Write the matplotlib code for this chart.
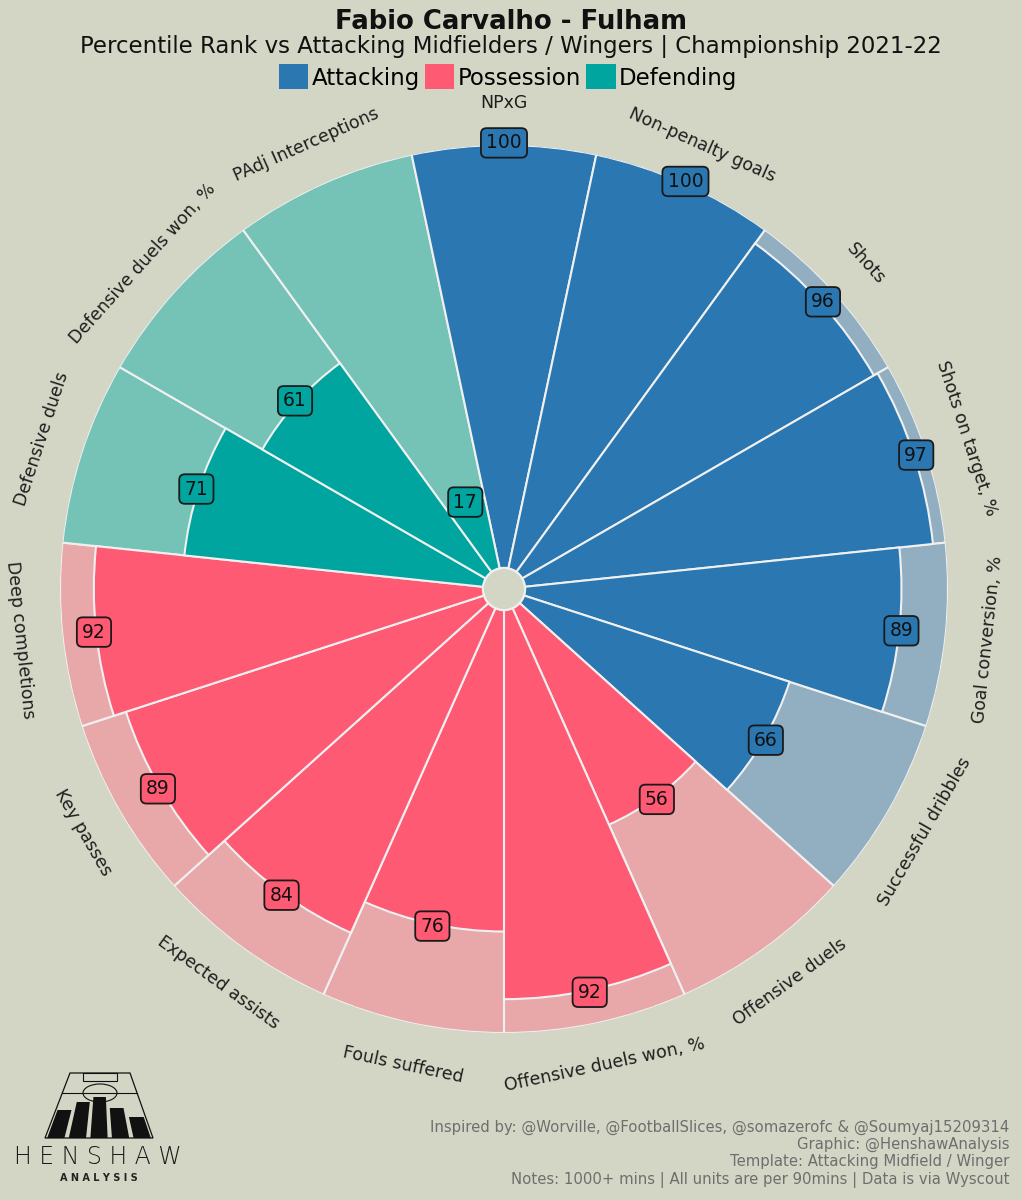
import numpy as np
import matplotlib.pyplot as plt
from matplotlib.patches import Circle, Polygon, Rectangle, Ellipse, Patch

# --- data ---
params = ["NPxG", "Non-penalty goals", "Shots", "Shots on target, %",
          "Goal conversion, %", "Successful dribbles", "Offensive duels",
          "Offensive duels won, %", "Fouls suffered", "Expected assists",
          "Key passes", "Deep completions", "Defensive duels",
          "Defensive duels won, %", "PAdj Interceptions"]
values = [100, 100, 96, 97, 89, 66, 56, 92, 76, 84, 89, 92, 71, 61, 17]
groups = ["Attacking"] * 6 + ["Possession"] * 6 + ["Defending"] * 3

group_names = ["Attacking", "Possession", "Defending"]
slice_col = {"Attacking": "#2A77B1", "Possession": "#FF5A73", "Defending": "#00A59F"}
back_col = {"Attacking": "#92AFC1", "Possession": "#E8A8A9", "Defending": "#75C2B6"}

title = "Fabio Carvalho - Fulham"
subtitle = "Percentile Rank vs Attacking Midfielders / Wingers | Championship 2021-22"
notes = ("Inspired by: @Worville, @FootballSlices, @somazerofc & @Soumyaj15209314\n"
         "Graphic: @HenshawAnalysis\n"
         "Template: Attacking Midfield / Winger\n"
         "Notes: 1000+ mins | All units are per 90mins | Data is via Wyscout")

BG = "#D3D6C4"
EDGE = "#F0F0F0"
INNER = 5  # hole in the middle, in value units

fig = plt.figure(figsize=(10.22, 12), dpi=100, facecolor=BG)

# polar axes: centre ~ (504, 589) px, outer radius ~444 px
cx, cy, R = 504, 589, 444
W, H = 1022, 1200
ax = fig.add_axes([(cx - R) / W, 1 - (cy + R) / H, 2 * R / W, 2 * R / H],
                  projection="polar")
ax.set_theta_zero_location("N")
ax.set_theta_direction(-1)
ax.set_ylim(-INNER, 100)
ax.patch.set_alpha(0)
ax.grid(False)
ax.set_xticks([])
ax.set_yticks([])
ax.spines["polar"].set_visible(False)

n = len(params)
width = 2 * np.pi / n
theta = np.arange(n) * width

ax.bar(theta, [100] * n, width=width, bottom=0,
       color=[back_col[g] for g in groups], edgecolor=EDGE, linewidth=1.5, zorder=1)
ax.bar(theta, values, width=width, bottom=0,
       color=[slice_col[g] for g in groups], edgecolor=EDGE, linewidth=1.5, zorder=2)

# inner circle
ax.add_artist(Circle((0, 0), 0.5 * INNER / (100 + INNER), transform=ax.transAxes,
                     facecolor=BG, edgecolor="#333333", linewidth=1.2, zorder=5))

for t, p, v, g in zip(theta, params, values, groups):
    deg = np.degrees(t)
    rot = -deg
    if 90 < deg < 270:
        rot += 180
    ax.text(t, 110, p, rotation=rot, ha="center", va="center",
            fontsize=12.5, color="#1E1E1E", rotation_mode="anchor", clip_on=False)
    ax.text(t, v + 0.5, str(v), ha="center", va="center", fontsize=13.5,
            color="#111111", zorder=6,
            bbox=dict(boxstyle="round,pad=0.28,rounding_size=0.3",
                      facecolor=slice_col[g], edgecolor="#1A1A1A", linewidth=1.3))

# titles
fig.text(0.5, 1 - 22 / H, title, ha="center", va="center", fontsize=18.7,
         fontweight="bold", color="#111111")
fig.text(0.5, 1 - 47 / H, subtitle, ha="center", va="center", fontsize=16.5,
         color="#111111")

handles = [Patch(facecolor=slice_col[g], edgecolor="none", label=g) for g in group_names]
fig.legend(handles=handles, loc="center", bbox_to_anchor=(0.497, 1 - 77 / H),
           ncol=3, frameon=False, fontsize=16.5, handlelength=1.3, handleheight=1.3,
           handletextpad=0.15, columnspacing=0.2)

fig.text(1009 / W, 1 - 1120 / H, notes, ha="right", va="top", fontsize=10.7,
         color="#6E6E6E", linespacing=1.17)

# logo (rough drawing)
lax = fig.add_axes([0, 0, 200 / W, 140 / H])
lax.set_xlim(0, 200)
lax.set_ylim(1200, 1060)
lax.axis("off")
top_y, bot_y = 1073, 1138
tl, tr, bl, br = 70, 130, 45, 153


def xat(frac, y):
    # x on a perspective line going from top to bottom
    f = (y - top_y) / (bot_y - top_y)
    left = tl + (bl - tl) * f
    right = tr + (br - tr) * f
    return left + (right - left) * frac


lax.add_patch(Polygon([(tl, top_y), (tr, top_y), (br, bot_y), (bl, bot_y)],
                      closed=True, fill=False, edgecolor="#111111", linewidth=0.9))
lax.add_patch(Rectangle((83, top_y), 34, 8, fill=False, edgecolor="#111111", linewidth=0.8))
lax.plot([xat(0, 1093), xat(1, 1093)], [1093, 1093], color="#111111", lw=0.8)
lax.add_patch(Ellipse((100, 1093), 34, 18, fill=False, edgecolor="#111111", linewidth=0.8))
bar_tops = [1110, 1102, 1097, 1108, 1117]
edges = [0.0, 0.2, 0.4, 0.6, 0.8, 1.0]
for k, ytop in enumerate(bar_tops):
    a, b = edges[k] + 0.02, edges[k + 1] - 0.02
    lax.add_patch(Polygon([(xat(a, ytop), ytop), (xat(b, ytop), ytop),
                           (xat(b, bot_y), bot_y), (xat(a, bot_y), bot_y)],
                          closed=True, facecolor="#111111", edgecolor="none"))
lax.text(98, 1157, "H E N S H A W", ha="center", va="center", fontsize=17,
         family="DejaVu Sans", fontweight="light", color="#1A1A1A")
lax.text(99, 1178, "A N A L Y S I S", ha="center", va="center", fontsize=7,
         fontweight="bold", color="#222222")

fig.savefig("out.png", dpi=100, facecolor=BG)
